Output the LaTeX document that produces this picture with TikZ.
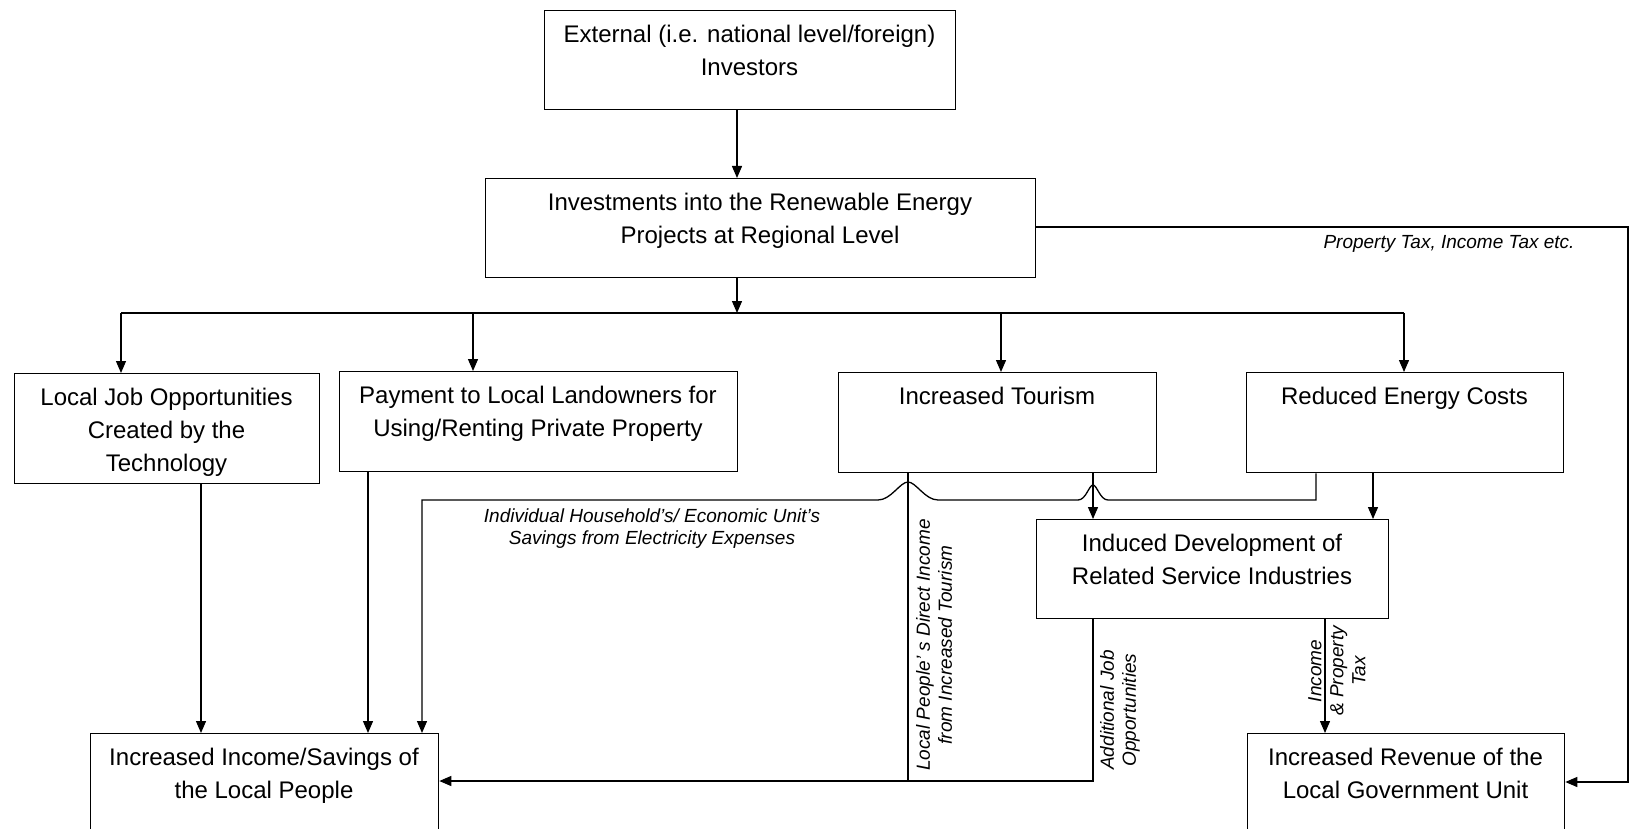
\documentclass[tikz,border=0pt]{standalone}
\usepackage{fontspec}
\setmainfont{Liberation Sans}
\usetikzlibrary{arrows.meta}
\begin{document}
\begin{tikzpicture}[x=1pt,y=-1pt,
  box/.style={draw,line width=1.3pt,inner sep=0pt,anchor=north west},
  btxt/.style={anchor=north,align=center,inner sep=0pt,font=\fontsize{24}{33}\selectfont},
  lbl/.style={align=center,inner sep=0pt,font=\fontsize{19}{22}\selectfont\itshape},
  ln/.style={line width=1.3pt},
  arr/.style={line width=1.3pt,-{Triangle[width=10pt,length=12pt]}}]
\useasboundingbox (0,0) rectangle (1630,829);
\clip (0,0) rectangle (1630,829);
\fill[white] (0,0) rectangle (1630,829);

% boxes
\node[box,minimum width=411pt,minimum height=99pt] (top) at (544,10) {};
\node[btxt] (toptx) at (749.5,24.5) {External (i.e. national level/foreign)\\Investors};
\node[box,minimum width=550pt,minimum height=99pt] (inv) at (485,178) {};
\node[btxt] (invtx) at (760,192.5) {Investments into the Renewable Energy\\Projects at Regional Level};
\node[box,minimum width=305pt,minimum height=110pt] (job) at (14,373) {};
\node[btxt] (jobtx) at (166.5,387.5) {Local Job Opportunities\\Created by the\\Technology};
\node[box,minimum width=398pt,minimum height=100pt] (pay) at (339,371) {};
\node[btxt] (paytx) at (538,385.5) {Payment to Local Landowners for\\Using/Renting Private Property};
\node[box,minimum width=318pt,minimum height=100pt] (tour) at (838,372) {};
\node[btxt] (tourtx) at (997,386.5) {Increased Tourism};
\node[box,minimum width=317pt,minimum height=100pt] (red) at (1246,372) {};
\node[btxt] (redtx) at (1404.5,386.5) {Reduced Energy Costs};
\node[box,minimum width=352pt,minimum height=99pt] (ind) at (1036,519) {};
\node[btxt] (indtx) at (1212,533.5) {Induced Development of\\Related Service Industries};
\node[box,minimum width=348pt,minimum height=130pt] (inc) at (90,733) {};
\node[btxt] (inctx) at (264,747.5) {Increased Income/Savings of\\the Local People};
\node[box,minimum width=317pt,minimum height=130pt] (rev) at (1247,733) {};
\node[btxt] (revtx) at (1405.5,747.5) {Increased Revenue of the\\Local Government Unit};

% helper coordinates
\coordinate (ta) at (737,0);
\coordinate (br) at (737,313);
\coordinate (bl) at (121,313);
\coordinate (bp) at (473,313);
\coordinate (bt) at (1001,313);
\coordinate (brd) at (1404,313);
\coordinate (vj) at (201,0);
\coordinate (vp) at (368,0);
\coordinate (vs) at (422,0);
\coordinate (sv) at (1316,500);
\coordinate (vt) at (908,781);
\coordinate (va) at (1093,781);
\coordinate (vr) at (1373,0);
\coordinate (vx) at (1325,0);
\coordinate (rt) at (1628,227);
\coordinate (rb) at (1628,782);

% connectors
\draw[arr] (top.south -| ta) -- (inv.north -| ta);
\draw[arr] (inv.south -| br) -- (br);
\draw[ln] (bl) -- (brd);
\draw[arr] (bl) -- (bl |- job.north);
\draw[arr] (bp) -- (bp |- pay.north);
\draw[arr] (bt) -- (bt |- tour.north);
\draw[arr] (brd) -- (brd |- red.north);
\draw[arr] (job.south -| vj) -- (inc.north -| vj);
\draw[arr] (pay.south -| vp) -- (inc.north -| vp);
\draw[arr] (red.south -| sv) -- (sv) -- (1108,500)
  .. controls (1100,500) and (1097,485) .. (1093,485)
  .. controls (1089,485) and (1086,500) .. (1078,500)
  -- (938,500)
  .. controls (925,500) and (916,482) .. (908,482)
  .. controls (900,482) and (891,500) .. (878,500)
  -- (422,500) -- (inc.north -| vs);
\draw[ln] (tour.south -| vt) -- (vt);
\draw[arr] (tour.south -| va) -- (ind.north -| va);
\draw[arr] (ind.south -| va) -- (va) -- (inc.east |- va);
\draw[arr] (red.south -| vr) -- (ind.north -| vr);
\draw[arr] (ind.south -| vx) -- (rev.north -| vx);
\draw[arr] (inv.east |- rt) -- (rt) -- (rb) -- (rev.east |- rb);

% labels
\node[lbl] (l1) at (1449,244) {Property Tax, Income Tax etc.};
\node[lbl] (l2) at (652,529) {Individual Household’s/ Economic Unit’s\\Savings from Electricity Expenses};
\node[lbl,rotate=90] (l3) at (934,645) {Local People’ s Direct Income\\from Increased Tourism};
\node[lbl,rotate=90] (l4) at (1120,710) {Additional Job\\Opportunities};
\node[lbl,rotate=90] (l5) at (1337,671) {Income\\\& Property\\Tax};
\end{tikzpicture}
\end{document}
